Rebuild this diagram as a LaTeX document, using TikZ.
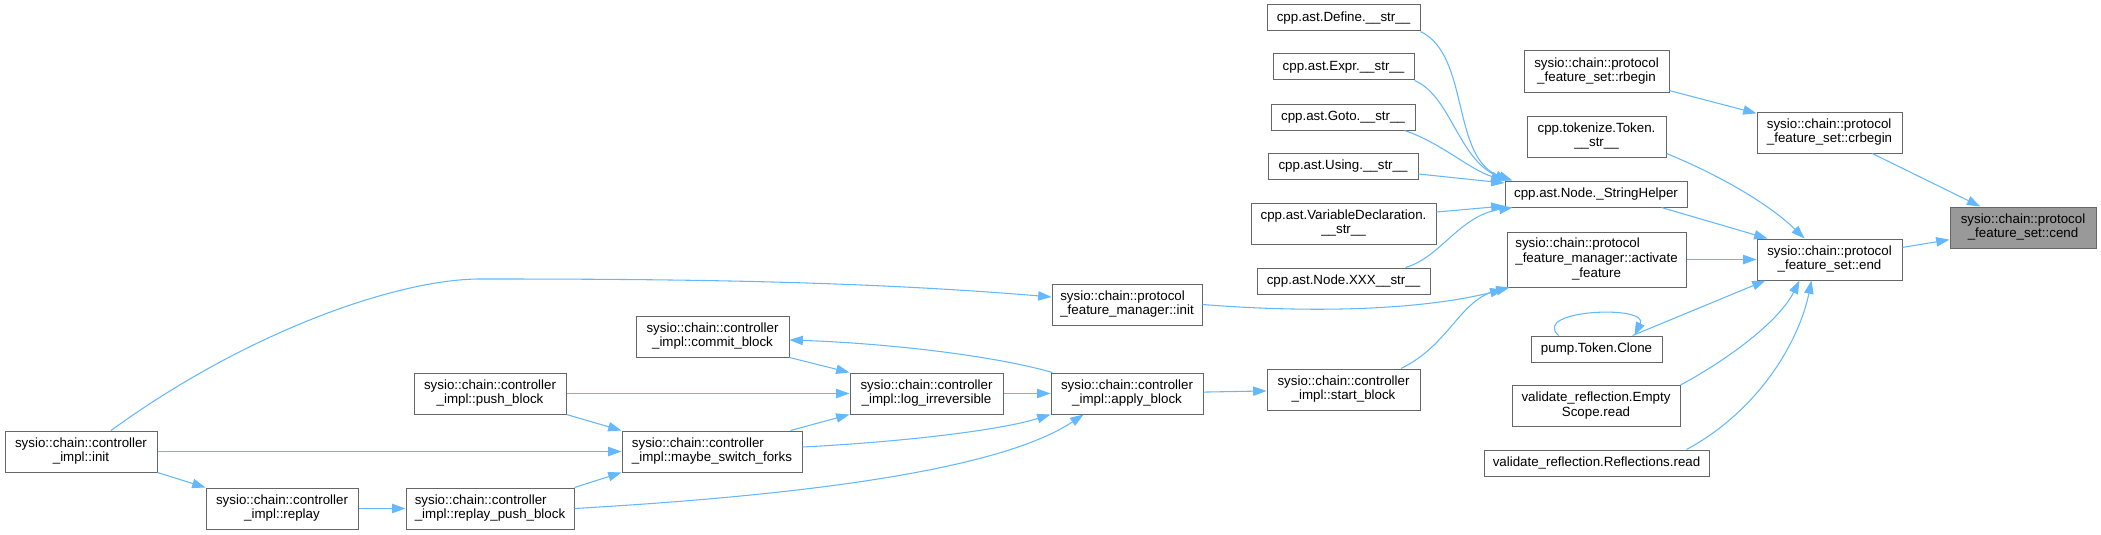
\documentclass[tikz,border=0pt]{standalone}
\usepackage{fontspec}
\setmainfont{Liberation Sans}
\usetikzlibrary{arrows.meta,calc}
\definecolor{edgeblue}{HTML}{63B8FF}
\definecolor{boxgray}{HTML}{666666}
\definecolor{curgray}{HTML}{999999}
\newcommand\Ltwo[2]{\begin{tabular}{@{}l@{}}#1\\\multicolumn{1}{@{}c@{}}{#2}\end{tabular}}
\newcommand\Lthree[3]{\begin{tabular}{@{}l@{}}#1\\#2\\\multicolumn{1}{@{}c@{}}{#3}\end{tabular}}
\tikzset{
  fbox/.style={draw=boxgray, line width=0.75pt, fill=white, inner sep=0pt, text=black,
    font=\fontsize{10}{11}\selectfont},
  sz/.style 2 args={minimum width=#1*0.75pt, minimum height=#2*0.75pt},
  curbox/.style={fbox, fill=curgray},
  edge/.style={draw=edgeblue, line width=0.8pt, -{Triangle[length=10pt,width=7pt]}}
}
\begin{document}
\begin{tikzpicture}[x=0.75pt,y=-0.75pt]
\useasboundingbox (0,0) rectangle (2101,535);
% nodes
\node[curbox, sz={146}{41}] (cend) at (2023,227.5) {\Ltwo{sysio::chain::protocol}{\_feature\_set::cend}};
\node[fbox, sz={145}{41}] (crbegin) at (1829.5,132.5) {\Ltwo{sysio::chain::protocol}{\_feature\_set::crbegin}};
\node[fbox, sz={145}{41}] (rbegin) at (1596.5,71.5) {\Ltwo{sysio::chain::protocol}{\_feature\_set::rbegin}};
\node[fbox, sz={145}{41}] (fsend) at (1829.5,259.5) {\Ltwo{sysio::chain::protocol}{\_feature\_set::end}};
\node[fbox, sz={139}{41}] (tok) at (1596.5,136.5) {\Ltwo{cpp.tokenize.Token.}{\_\_str\_\_}};
\node[fbox, sz={182}{26}] (sh) at (1596,194) {cpp.ast.Node.\_StringHelper};
\node[fbox, sz={179}{55}] (act) at (1596.5,259.5) {\Lthree{sysio::chain::protocol}{\_feature\_manager::activate}{\_feature}};
\node[fbox, sz={131}{26}] (clone) at (1596.5,349) {pump.Token.Clone};
\node[fbox, sz={168}{41}] (es) at (1596,406) {\Ltwo{validate\_reflection.Empty}{Scope.read}};
\node[fbox, sz={225}{26}] (refl) at (1596.5,463) {validate\_reflection.Reflections.read};
\node[fbox, sz={153}{26}] (ndef) at (1343.5,18) {cpp.ast.Define.\_\_str\_\_};
\node[fbox, sz={141}{26}] (nexpr) at (1343.5,67) {cpp.ast.Expr.\_\_str\_\_};
\node[fbox, sz={144}{26}] (ngoto) at (1343,117) {cpp.ast.Goto.\_\_str\_\_};
\node[fbox, sz={150}{26}] (nusing) at (1343,166) {cpp.ast.Using.\_\_str\_\_};
\node[fbox, sz={185}{41}] (nvd) at (1343.5,223.5) {\Ltwo{cpp.ast.VariableDeclaration.}{\_\_str\_\_}};
\node[fbox, sz={173}{26}] (nxxx) at (1343.5,281) {cpp.ast.Node.XXX\_\_str\_\_};
\node[fbox, sz={150}{41}] (fmi) at (1127,304.5) {\Ltwo{sysio::chain::protocol}{\_feature\_manager::init}};
\node[fbox, sz={153}{41}] (sb) at (1343.5,389.5) {\Ltwo{sysio::chain::controller}{\_impl::start\_block}};
\node[fbox, sz={152}{41}] (apply) at (1127,393.5) {\Ltwo{sysio::chain::controller}{\_impl::apply\_block}};
\node[fbox, sz={153}{41}] (logi) at (926.5,393.5) {\Ltwo{sysio::chain::controller}{\_impl::log\_irreversible}};
\node[fbox, sz={153}{41}] (commit) at (712.5,336.5) {\Ltwo{sysio::chain::controller}{\_impl::commit\_block}};
\node[fbox, sz={180}{41}] (msf) at (712,451.5) {\Ltwo{sysio::chain::controller}{\_impl::maybe\_switch\_forks}};
\node[fbox, sz={152}{41}] (push) at (490,393.5) {\Ltwo{sysio::chain::controller}{\_impl::push\_block}};
\node[fbox, sz={168}{41}] (rpb) at (490,508.5) {\Ltwo{sysio::chain::controller}{\_impl::replay\_push\_block}};
\node[fbox, sz={152}{41}] (replay) at (282,508.5) {\Ltwo{sysio::chain::controller}{\_impl::replay}};
\node[fbox, sz={152}{41}] (cinit) at (81,451.5) {\Ltwo{sysio::chain::controller}{\_impl::init}};
\coordinate (bend) at (480,279);
% edges
\draw[edge] (crbegin) -- (cend);
\draw[edge] (fsend) -- (cend);
\draw[edge] (rbegin) -- (crbegin);
\draw[edge] ($(tok.south east)+(0,-4)$) .. controls +(54,22) and +(-35,-34) .. ($(fsend.north west)+(48,0)$);
\draw[edge] ($(sh.south east)+(-26,0)$) -- ($(fsend.north west)+(11,0)$);
\draw[edge] (act) -- (fsend);
\draw[edge] ($(clone.north)+(36,0)$) -- ($(fsend.south west)+(9,0)$);
\draw[edge] (es.north east) .. controls +(50,-27) and +(-20,40) .. ($(fsend.south west)+(43,0)$);
\draw[edge] ($(refl.north east)+(-23,0)$) .. controls +(74,-40) and +(-12,59) .. ($(fsend.south west)+(55,0)$);
\draw[edge] ($(clone.north)+(-38,0)$) .. controls +(-28,-26) and +(15,-31) .. ($(clone.north)+(38,0)$);
\draw[edge] (ndef.south east) .. controls +(50,24) and +(-62,-21) .. ($(sh.north west)+(8,0)$);
\draw[edge] (nexpr.south east) .. controls +(36,15) and +(-50,-21) .. ($(sh.north west)+(4,0)$);
\draw[edge] ($(ngoto.south east)+(-11,0)$) .. controls +(36,12) and +(-35,-11) .. ($(sh.north west)+(0,0)$);
\draw[edge] ($(nusing.east)+(0,8)$) -- ($(sh.west)+(0,-11)$);
\draw[edge] ($(nvd.east)+(0,-11.5)$) -- ($(sh.west)+(0,12)$);
\draw[edge] ($(nxxx.north east)+(-25,0)$) .. controls +(35,-10) and +(-53,8) .. ($(sh.south west)+(8,0)$);
\draw[edge] (fmi.east) .. controls +(100,8) and +(-90,22) .. ($(act.south west)+(-3,2)$);
\draw[edge] ($(sb.north)+(57.5,0)$) .. controls +(49,-24) and +(-50,12) .. ($(act.south west)+(3,0)$);
\draw[edge] (apply) -- (sb);
\draw[edge] ($(apply.north west)+(2,0)$) .. controls +(-63,-18) and +(91,3) .. ($(commit.east)+(0,3.5)$);
\draw[edge] (commit.south east) -- (logi.north west);
\draw[edge] (logi) -- (apply);
\draw[edge] (push) -- (logi);
\draw[edge] (push.south east) -- (msf.north west);
\draw[edge] ($(msf.north east)+(-12,0)$) -- (logi.south west);
\draw[edge] ($(msf.east)+(0,-4.5)$) .. controls +(98,-5) and +(-51,16) .. (apply.south west);
\draw[edge] (rpb.east) .. controls +(226,-13) and +(-84,56) .. ($(apply.south west)+(33,0)$);
\draw[edge] (rpb.north east) -- (msf.south west);
\draw[edge] (cinit) -- (msf);
\draw[edge] (cinit.south east) -- (replay.north west);
\draw[edge] (replay) -- (rpb);
\draw[edge] ($(cinit.north)+(30,0)$) .. controls +(139,-101) and +(-80,0) .. (bend) .. controls +(170,0) and +(-202,-17) .. ($(fmi.west)+(0,-7.5)$);
\end{tikzpicture}
\end{document}
